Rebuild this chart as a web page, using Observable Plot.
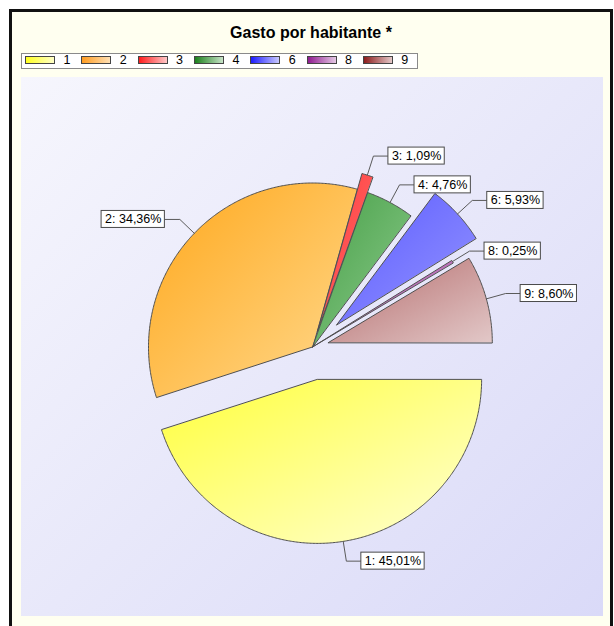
<!DOCTYPE html>
<html><head><meta charset="utf-8">
<script src="https://cdn.jsdelivr.net/npm/d3@7"></script>
<script src="https://cdn.jsdelivr.net/npm/@observablehq/plot@0.6"></script>
<style>
html,body{margin:0;padding:0;background:#fff;}
body{width:614px;height:626px;overflow:hidden;position:relative;font-family:Arial,"Liberation Sans",sans-serif;}
#frame{position:absolute;left:9px;top:9px;width:604px;height:620px;box-sizing:border-box;border:3px solid #111;background:#fffff0;}
#title{position:absolute;left:0;right:0;top:12px;text-align:center;font-weight:bold;font-size:16px;color:#000;}
#legend{position:absolute;left:9px;top:41px;width:397px;height:16px;box-sizing:border-box;border:1px solid #8a8a8a;background:#fff;}
.sw{position:absolute;top:2px;width:30px;height:8px;box-sizing:border-box;border:1px solid #444;}
.lb{position:absolute;top:-1px;font-size:12.5px;line-height:14px;color:#000;}
#chart{position:absolute;left:9px;top:65px;width:582px;height:539px;}
</style>
</head><body>
<div id="frame">
  <div id="title"></div>
  <div id="legend"></div>
  <div id="chart"></div>
</div>
<script>
// ---- data ----
const title = "Gasto por habitante *";
const categories = ["1", "2", "3", "4", "6", "8", "9"];
const shares = [45.01, 34.36, 1.09, 4.76, 5.93, 0.25, 8.60];

// ---- styles ----
const sliceGrad = {
  "1": ["#ffff3c", "#ffffd4"],
  "2": ["#ffa81c", "#ffd98e"],
  "3": ["#ff3c3c", "#ff6a6a"],
  "4": ["#479f47", "#8ccb8c"],
  "6": ["#5c5cff", "#9494ff"],
  "8": ["#9c3c9c", "#d8a4d8"],
  "9": ["#b46a6a", "#e2c8c8"]
};
const legendGrad = {
  "1": ["#ffff20", "#ffffc8"],
  "2": ["#ff9c20", "#ffe0b4"],
  "3": ["#ff1c1c", "#ffc8c8"],
  "4": ["#1c801c", "#c8e4c8"],
  "6": ["#1c1cff", "#c8c8ff"],
  "8": ["#901c90", "#e4c8e4"],
  "9": ["#8c1c1c", "#e4c8c8"]
};
const explode = {"1": 0.2, "2": 0, "3": 0.1, "4": 0, "6": 0.2, "8": 0, "9": 0.1};

document.getElementById("title").textContent = title;

// legend
const leg = document.getElementById("legend");
categories.forEach((c, i) => {
  const sw = document.createElement("div");
  sw.className = "sw";
  sw.style.left = (3 + i * 56.3) + "px";
  sw.style.background = `linear-gradient(to right, ${legendGrad[c][0]}, ${legendGrad[c][1]})`;
  leg.appendChild(sw);
  const lb = document.createElement("div");
  lb.className = "lb";
  lb.style.left = (41.5 + i * 56.3) + "px";
  lb.textContent = c;
  leg.appendChild(lb);
});

// ---- geometry ----
const W = 582, H = 539, R = 164; // pixels per radius unit
const px = v => v / R;
const fmt = v => v.toFixed(2).replace(".", ",");
const FS = 12.5;

const ctx = document.createElement("canvas").getContext("2d");
ctx.font = `${FS}px Arial`;

let a = 0;
const slices = [];
const leaders = [];
const labels = [];
categories.forEach((c, i) => {
  const sweep = shares[i] / 100 * 2 * Math.PI;
  const a0 = a, a1 = a - sweep;
  a = a1;
  const mid = (a0 + a1) / 2;
  const ox = explode[c] * Math.cos(mid), oy = explode[c] * Math.sin(mid);
  const pts = [{c, x: ox, y: oy}];
  const n = Math.max(2, Math.ceil(sweep * 180 / Math.PI * 2));
  for (let k = 0; k <= n; k++) {
    const t = a0 + (a1 - a0) * k / n;
    pts.push({c, x: ox + Math.cos(t), y: oy + Math.sin(t)});
  }
  slices.push({c, pts});
  const dx = Math.cos(mid), dy = Math.sin(mid);
  const side = dx >= 0 ? 1 : -1;
  const ex = ox + (1 + px(20)) * dx, ey = oy + (1 + px(20)) * dy;
  const endx = ex + side * px(15);
  leaders.push({c, x: ox + dx, y: oy + dy});
  leaders.push({c, x: ex, y: ey});
  leaders.push({c, x: endx, y: ey});
  const text = `${c}: ${fmt(shares[i])}%`;
  const w = px(ctx.measureText(text).width + 7);
  const x1 = side > 0 ? endx : endx - w;
  labels.push({c, text, x1, x2: x1 + w, y1: ey - px(8.5), y2: ey + px(8.5), y: ey});
});

const marks = [];
slices.forEach(s => {
  marks.push(Plot.line(s.pts, {x: "x", y: "y", curve: "linear-closed", fill: `url(#grad-${s.c})`, stroke: "#505050", strokeWidth: 1}));
});
marks.push(Plot.line(leaders, {x: "x", y: "y", z: "c", stroke: "#5a5a5a", strokeWidth: 1}));
marks.push(Plot.rect(labels, {x1: "x1", x2: "x2", y1: "y1", y2: "y2", fill: "white", stroke: "#4a4a4a", strokeWidth: 1}));
marks.push(Plot.text(labels, {x: "x1", y: "y", text: "text", textAnchor: "start", dx: 3.5, fontSize: FS, fontFamily: "Arial", fill: "black"}));

const svg = Plot.plot({
  width: W, height: H, margin: 0,
  x: {domain: [-W / 2 / R, W / 2 / R], axis: null},
  y: {domain: [-H / 2 / R, H / 2 / R], axis: null},
  style: {background: "linear-gradient(135deg, #f6f6fd 0%, #e8e8fa 50%, #dadaf8 100%)", fontFamily: "Arial"},
  marks
});
const defs = d3.select(svg).insert("defs", ":first-child");
categories.forEach(c => {
  const g = defs.append("linearGradient").attr("id", `grad-${c}`)
    .attr("x1", 0).attr("y1", 0).attr("x2", 1).attr("y2", 1);
  g.append("stop").attr("offset", "0%").attr("stop-color", sliceGrad[c][0]);
  g.append("stop").attr("offset", "100%").attr("stop-color", sliceGrad[c][1]);
});
document.getElementById("chart").appendChild(svg);
</script>
</body></html>
